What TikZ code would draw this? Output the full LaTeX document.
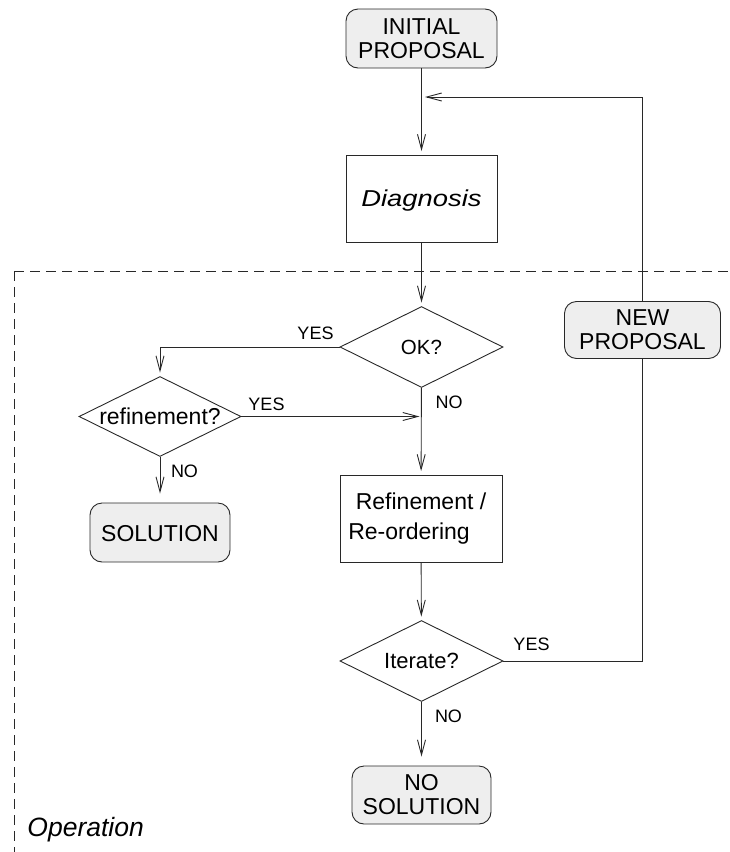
\documentclass[tikz,border=0pt]{standalone}
\usepackage{fontspec}
\setmainfont{Liberation Sans}
\usetikzlibrary{arrows.meta,shapes.geometric}
\definecolor{boxfill}{RGB}{238,238,238}
\definecolor{ink}{RGB}{40,40,40}
\newcommand{\bigtxt}{\fontsize{23}{24}\selectfont}
\newcommand{\smalltxt}{\fontsize{18}{20}\selectfont}
\begin{document}
\begin{tikzpicture}[x=1pt,y=-1pt,line width=0.9pt,
  term/.style={draw=ink, rounded corners=12pt, fill=boxfill, align=center, inner sep=0pt, font=\bigtxt},
  proc/.style={draw=ink, inner sep=0pt, align=center, font=\bigtxt},
  dec/.style={draw=ink, diamond, aspect=2, inner sep=0pt, minimum width=163pt, minimum height=81pt, font=\bigtxt, text depth=0pt},
  lbl/.style={font=\smalltxt, inner sep=0pt},
  arr/.style={draw=ink, -{Straight Barb[length=15pt,width=8pt]}, shorten >=3.5pt},
  conn/.style={draw=ink}]
\useasboundingbox (0,0) rectangle (730,852);
% operation frame
\draw[ink, dash pattern=on 10pt off 6pt] (14,271) -- (730,271);
\draw[ink, dash pattern=on 10pt off 6pt] (14,271) -- (14,852);
\node[font=\fontsize{26.5}{28}\selectfont\itshape, inner sep=0pt, anchor=base west] (oplbl) at (27,836.5) {Operation};
\coordinate (fb) at (425,97);
\coordinate (jn) at (421.5,416.5);
% nodes
\node[term, minimum width=151pt, minimum height=59pt] (init) at (421.5,38.5) {INITIAL\\PROPOSAL};
\node[proc, minimum width=151pt, minimum height=87pt, text depth=0pt] (diag) at (421.5,198.5) {\scalebox{1.19}[1]{\itshape Diagnosis}};
\node[dec, font=\fontsize{20.5}{22}\selectfont] (ok) at (421.5,347) {\raisebox{-1.5pt}{OK?}};
\node[dec, minimum width=162pt, minimum height=80pt] (ref) at (160,416.5) {refinement?};
\node[term, minimum width=140pt, minimum height=59pt, text depth=0pt] (sol) at (160,532.5) {\raisebox{-2pt}{SOLUTION}};
\node[proc, minimum width=162pt, minimum height=87pt, align=left, font=\fontsize{23}{29.3}\selectfont] (refbox) at (421,518.5) {\hspace*{7.5pt}Refinement /\hspace*{7.4pt}\\Re-ordering};
\node[dec, font=\fontsize{22}{24}\selectfont] (it) at (421.5,661) {Iterate?};
\node[term, minimum width=139pt, minimum height=58pt] (nosol) at (421.5,795) {NO\\SOLUTION};
\node[term, minimum width=156pt, minimum height=57pt] (newp) at (642.5,330) {NEW\\PROPOSAL};
% connectors
\draw[arr] (init) -- (diag);
\draw[arr] (diag) -- (ok);
\draw[arr] (ok) -- (refbox);
\draw[arr] (refbox) -- (it);
\draw[arr, shorten >=9pt] (it) -- (nosol);
\draw[arr] (ok.west) -| (ref.north);
\draw[arr, shorten >=2pt] (ref.east) -- (jn);
\draw[arr, shorten >=9pt] (ref) -- (sol);
\draw[conn] (it.east) -| (newp.south);
\draw[arr, shorten >=0pt] (newp.north) |- (fb);
% labels
\node[lbl] (l1) at (315.5,333.5) {YES};
\node[lbl] (l2) at (266.5,404) {YES};
\node[lbl] (l3) at (449,402) {NO};
\node[lbl] (l4) at (184.5,471) {NO};
\node[lbl] (l5) at (531.5,644) {YES};
\node[lbl] (l6) at (448.5,716.5) {NO};
\end{tikzpicture}
\end{document}
